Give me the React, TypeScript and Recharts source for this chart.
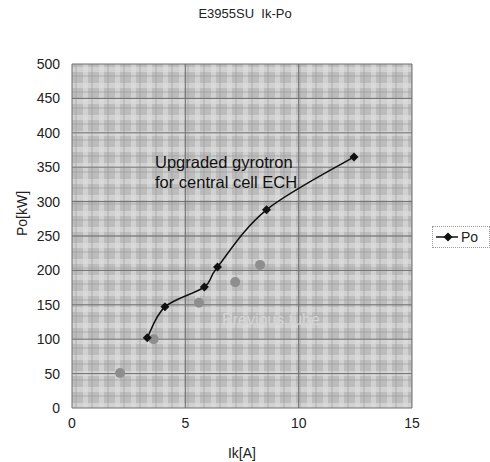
import React from 'react';
import {
  ComposedChart,
  Line,
  Scatter,
  XAxis,
  YAxis,
  CartesianGrid,
} from 'recharts';

const upgradedIk = [3.32, 4.1, 5.84, 6.42, 8.58, 12.44];
const upgradedPo = [102, 147, 176, 205, 288, 365];
const previousIk = [2.12, 3.6, 5.6, 7.2, 8.3];
const previousPo = [51, 100, 153, 183, 208];
const xTicks = [0, 5, 10, 15];
const yTicks = [0, 50, 100, 150, 200, 250, 300, 350, 400, 450, 500];

const upgraded = upgradedIk.map((x, i) => ({ x, po: upgradedPo[i] }));
const previous = previousIk.map((x, i) => ({ x, po: previousPo[i] }));

const font = 'Arial, "Liberation Sans", sans-serif';

// Catmull-Rom style smoothing, similar to the spreadsheet "smoothed line"
const smoothCurve = (ctx: any) => {
  let pts: [number, number][] = [];
  return {
    areaStart() {},
    areaEnd() {},
    lineStart() {
      pts = [];
    },
    point(x: number, y: number) {
      pts.push([+x, +y]);
    },
    lineEnd() {
      if (!pts.length) return;
      ctx.moveTo(pts[0][0], pts[0][1]);
      for (let i = 0; i < pts.length - 1; i++) {
        const p0 = pts[Math.max(i - 1, 0)];
        const p1 = pts[i];
        const p2 = pts[i + 1];
        const p3 = pts[Math.min(i + 2, pts.length - 1)];
        ctx.bezierCurveTo(
          p1[0] + (p2[0] - p0[0]) / 6,
          p1[1] + (p2[1] - p0[1]) / 6,
          p2[0] - (p3[0] - p1[0]) / 6,
          p2[1] - (p3[1] - p1[1]) / 6,
          p2[0],
          p2[1]
        );
      }
    },
  };
};

const Diamond = (props: any) => {
  const { cx, cy } = props;
  if (cx == null || cy == null) return null;
  return (
    <path
      d={`M${cx},${cy - 4.5}L${cx + 4.5},${cy}L${cx},${cy + 4.5}L${cx - 4.5},${cy}Z`}
      fill="#111"
    />
  );
};

const LegendBox = () => (
  <div
    style={{
      position: 'absolute',
      left: 432,
      top: 226,
      border: '1px dotted #999',
      width: 56,
      height: 20,
      display: 'flex',
      alignItems: 'center',
      fontFamily: font,
      fontSize: 14,
      color: '#222',
    }}
  >
    <svg width={26} height={12}>
      <line x1={3} y1={6} x2={25} y2={6} stroke="#111" strokeWidth={1.5} />
      <path d="M15,1.5L19.5,6L15,10.5L10.5,6Z" fill="#111" />
    </svg>
    <span style={{ marginLeft: 2 }}>Po</span>
  </div>
);

export default function App() {
  return (
    <div style={{ position: 'absolute', left: 0, top: 0, width: 490, height: 462, background: '#fff' }}>
      <div
        style={{
          position: 'absolute',
          top: 6,
          left: 0,
          width: 490,
          textAlign: 'center',
          fontFamily: font,
          fontSize: 13,
          color: '#222',
        }}
      >
        E3955SU&nbsp;&nbsp;Ik-Po
      </div>
      <ComposedChart
        width={490}
        height={462}
        margin={{ top: 64, right: 78, bottom: 24, left: 0 }}
      >
        <defs>
          <pattern id="plaid" width="16" height="16" patternUnits="userSpaceOnUse">
            <rect width="16" height="16" fill="#bcbcbc" />
            <rect x="3" y="0" width="5" height="16" fill="#e2e2e2" opacity="0.55" />
            <rect x="0" y="3" width="16" height="5" fill="#e2e2e2" opacity="0.55" />
            <rect x="11" y="0" width="2" height="16" fill="#9c9c9c" opacity="0.35" />
            <rect x="0" y="11" width="16" height="2" fill="#9c9c9c" opacity="0.35" />
          </pattern>
        </defs>
        <CartesianGrid
          fill="url(#plaid)"
          fillOpacity={1}
          stroke="#6e6e6e"
          strokeWidth={1}
        />
        <XAxis
          type="number"
          dataKey="x"
          domain={[0, 15]}
          ticks={xTicks}
          axisLine={false}
          tickLine={false}
          tickMargin={4}
          tick={{ fill: '#222', fontSize: 14, fontFamily: font }}
          height={30}
          label={{
            value: 'Ik[A]',
            position: 'insideBottom',
            offset: -20,
            fill: '#222',
            fontSize: 14,
            fontFamily: font,
          }}
        />
        <YAxis
          type="number"
          dataKey="po"
          domain={[0, 500]}
          ticks={yTicks}
          width={72}
          axisLine={false}
          tickLine={false}
          tickMargin={6}
          tick={{ fill: '#222', fontSize: 14, fontFamily: font }}
          label={{
            value: 'Po[kW]',
            angle: -90,
            position: 'insideLeft',
            offset: 22,
            fill: '#222',
            fontSize: 14,
            fontFamily: font,
          }}
        />
        <Scatter
          data={previous}
          dataKey="po"
          fill="#8e8e8e"
          legendType="none"
          isAnimationActive={false}
          shape={(p: any) => <circle cx={p.cx} cy={p.cy} r={5} fill="#8e8e8e" />}
        />
        <Line
          data={upgraded}
          dataKey="po"
          name="Po"
          type={smoothCurve as any}
          stroke="#111"
          strokeWidth={1.5}
          dot={<Diamond />}
          activeDot={false}
          isAnimationActive={false}
        />
        <text x={155} y={168} fill="#111" fontSize={16.5} fontFamily={font}>
          Upgraded gyrotron
        </text>
        <text x={155} y={188} fill="#111" fontSize={16.5} fontFamily={font}>
          for central cell ECH
        </text>
        <text x={222} y={325} fill="#d4d4d4" fontSize={16} fontFamily={font}>
          Previous tube
        </text>
      </ComposedChart>
      <LegendBox />
    </div>
  );
}
